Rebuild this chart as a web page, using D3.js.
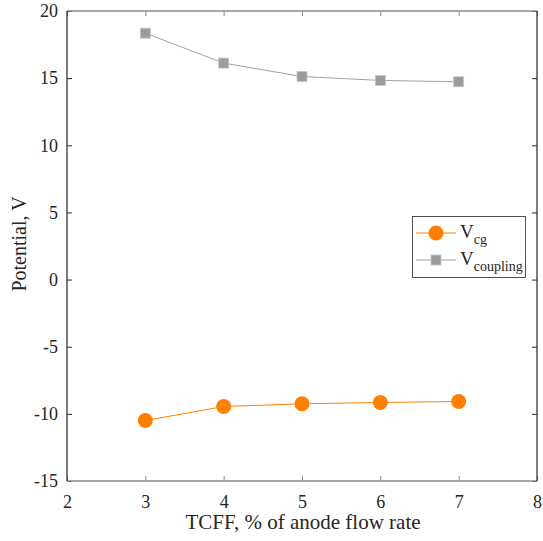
<!DOCTYPE html>
<html><head><meta charset="utf-8">
<script src="https://cdn.jsdelivr.net/npm/d3@7"></script>
<style>body{margin:0;background:#fff}svg{display:block}</style>
</head><body><svg id="c" width="543" height="541"></svg>
<script>
const xValues = [3, 4, 5, 6, 7];
const vcg = [-10.5, -9.45, -9.25, -9.15, -9.08];
const vcoupling = [18.35, 16.12, 15.12, 14.83, 14.73];
const xTicks = [2, 3, 4, 5, 6, 7, 8];
const yTicks = [-15, -10, -5, 0, 5, 10, 15, 20];
const seriesNames = ["cg", "coupling"];

const FONT = '"Liberation Serif", "Times New Roman", "DejaVu Serif", serif';
const svg = d3.select("#c").attr("font-family", FONT);
const L = 67, R = 537, T = 11, B = 481;
const x = d3.scaleLinear().domain([2, 8]).range([L, R]);
const y = d3.scaleLinear().domain([-15, 20]).range([B, T]);
const xCol = "#8a8a8a", yCol = "#262626";
const fmt = d => String(d);

function styleAxis(g, col) {
  g.attr("font-family", FONT).attr("font-size", 18);
  g.select(".domain").remove();
  g.selectAll(".tick line").attr("stroke", col);
  g.selectAll(".tick text").attr("fill", "#262626");
}
svg.append("g").attr("transform", `translate(0,${B})`)
  .call(d3.axisBottom(x).tickValues(xTicks).tickSize(-5).tickPadding(14).tickFormat(fmt))
  .call(g => styleAxis(g, xCol));
svg.append("g").attr("transform", `translate(0,${T})`)
  .call(d3.axisTop(x).tickValues(xTicks).tickSize(-5).tickFormat(""))
  .call(g => styleAxis(g, xCol));
svg.append("g").attr("transform", `translate(${L},0)`)
  .call(d3.axisLeft(y).tickValues(yTicks).tickSize(-5).tickPadding(9).tickFormat(fmt))
  .call(g => styleAxis(g, yCol));
svg.append("g").attr("transform", `translate(${R},0)`)
  .call(d3.axisRight(y).tickValues(yTicks).tickSize(-5).tickFormat(""))
  .call(g => styleAxis(g, yCol));
svg.append("line").attr("x1", L).attr("x2", R).attr("y1", T).attr("y2", T).attr("stroke", xCol).attr("stroke-width", 1.5);
svg.append("line").attr("x1", L).attr("x2", R).attr("y1", B).attr("y2", B).attr("stroke", xCol).attr("stroke-width", 1.5);
svg.append("line").attr("x1", L).attr("x2", L).attr("y1", T).attr("y2", B).attr("stroke", yCol).attr("stroke-width", 1.2);
svg.append("line").attr("x1", R).attr("x2", R).attr("y1", T).attr("y2", B).attr("stroke", yCol).attr("stroke-width", 1.2);

const line = d3.line().x((d, i) => x(xValues[i])).y(d => y(d));
const orange = "#ff8000", gray = "#9b9b9b";
svg.append("path").datum(vcoupling).attr("d", line).attr("fill", "none").attr("stroke", "#a0a0a0").attr("stroke-width", 1);
svg.append("path").datum(vcg).attr("d", line).attr("fill", "none").attr("stroke", orange).attr("stroke-width", 1);
svg.selectAll(".sq").data(vcoupling).enter().append("rect")
  .attr("x", (d, i) => x(xValues[i]) - 5).attr("y", d => y(d) - 5)
  .attr("width", 10).attr("height", 10).attr("fill", gray).attr("stroke", "#c8c8c8").attr("stroke-width", 0.8);
svg.selectAll(".ci").data(vcg).enter().append("circle")
  .attr("cx", (d, i) => x(xValues[i])).attr("cy", d => y(d)).attr("r", 7.5).attr("fill", orange);

svg.append("text").attr("x", (L + R) / 2 + 1).attr("y", 529).attr("text-anchor", "middle").attr("font-size", 21).attr("fill", "#262626")
  .text("TCFF, % of anode flow rate");
svg.append("text").attr("transform", `translate(26,244) rotate(-90)`).attr("text-anchor", "middle").attr("font-size", 20).attr("fill", "#262626")
  .text("Potential, V");

const lg = svg.append("g");
lg.append("rect").attr("x", 412.5).attr("y", 216.5).attr("width", 113).attr("height", 61).attr("fill", "#fff").attr("stroke", "#262626").attr("stroke-width", 0.8);
const ly = [233, 260];
lg.append("line").attr("x1", 416).attr("x2", 456).attr("y1", ly[0]).attr("y2", ly[0]).attr("stroke", orange);
lg.append("circle").attr("cx", 436).attr("cy", ly[0]).attr("r", 7.5).attr("fill", orange);
lg.append("line").attr("x1", 416).attr("x2", 456).attr("y1", ly[1]).attr("y2", ly[1]).attr("stroke", "#a0a0a0");
lg.append("rect").attr("x", 431).attr("y", ly[1] - 5).attr("width", 10).attr("height", 10).attr("fill", gray).attr("stroke", "#c8c8c8").attr("stroke-width", 0.8);
seriesNames.forEach((n, i) => {
  const t = lg.append("text").attr("x", 460).attr("y", ly[i] + 5).attr("font-size", 19).attr("fill", "#262626");
  t.append("tspan").text("V");
  t.append("tspan").attr("font-size", 14).attr("dy", 6).text(n);
});
</script></body></html>
